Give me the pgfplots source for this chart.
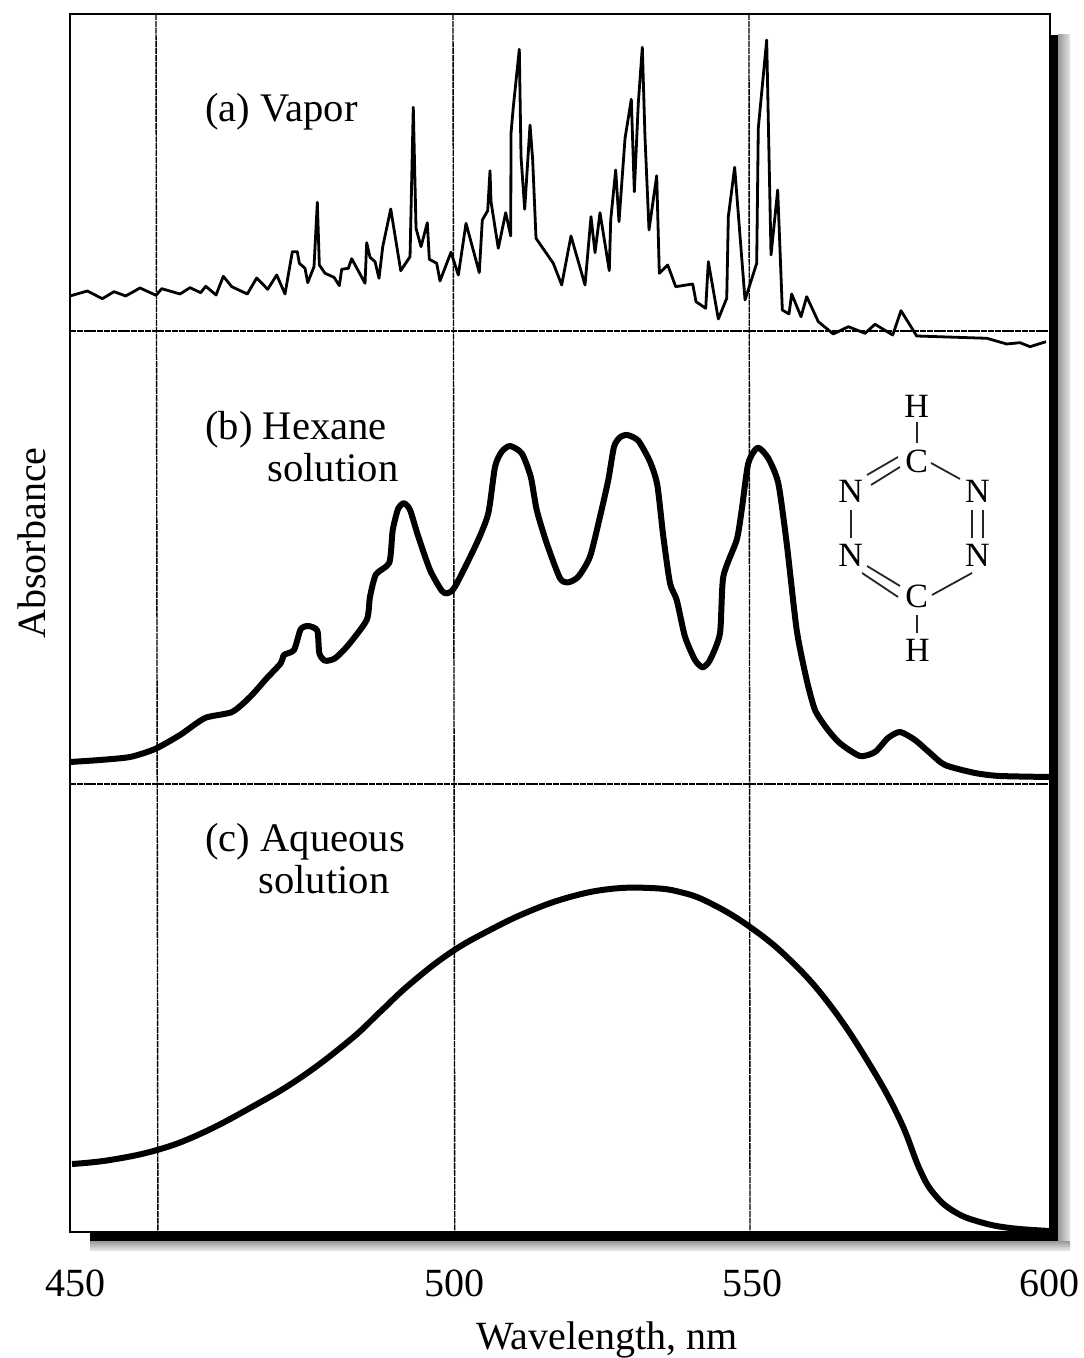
\documentclass[border=0pt]{standalone}
\usepackage{fontspec}
\setmainfont{Liberation Serif}
\usepackage{pgfplots}
\pgfplotsset{compat=1.18}
\usepackage{pgfplotstable}
\pgfplotstableread{
nm abs
435.30 1062
438.23 1067
440.76 1059.3
442.74 1066.3
444.71 1062
447.13 1070
449.83 1062.7
450.79 1069.3
453.89 1064
455.57 1070.3
457.38 1065.3
458.23 1071.7
459.97 1063
461.20 1081.7
462.62 1071.3
465.25 1064
466.84 1080
468.70 1068.7
470.22 1083
471.62 1064
472.86 1106.3
473.70 1106.3
474.04 1094.7
475.00 1089.7
475.46 1075.3
476.52 1091.3
477.08 1155.7
477.42 1093
478.38 1084.7
479.90 1080.7
480.80 1072.3
481.20 1088.7
482.32 1089.7
482.89 1099.3
485.14 1074.7
485.42 1115.3
485.98 1100.7
486.83 1096.3
487.50 1079.7
488.13 1111.3
489.48 1149
491.17 1087.3
492.74 1101.3
493.29 1250.7
493.75 1129.7
494.60 1111.3
495.66 1135.3
496.00 1098.7
497.25 1094.7
497.80 1077
499.66 1105.7
500.90 1083
502.20 1134.7
504.44 1085.3
504.95 1138
505.86 1147.3
506.25 1187.3
506.42 1156.3
507.65 1109.7
508.90 1145.3
509.75 1122
509.80 1224.7
510.19 1251.3
511.20 1308.7
511.49 1201.3
512.11 1148.7
513.01 1233
513.46 1198
514.02 1119.7
516.94 1094.7
518.36 1073
519.93 1122
522.30 1073
523.31 1141.3
523.99 1105.3
524.83 1145.3
526.40 1087.3
526.64 1138
527.48 1188
528.04 1136.3
529.06 1219.7
530.12 1258.7
530.63 1166.3
531.30 1254.7
531.98 1310.7
532.43 1221.3
533.11 1128
534.41 1182.3
534.85 1084.7
536.27 1093
537.62 1071.3
540.49 1074
541.05 1056.3
542.69 1049.7
543.13 1096.3
544.82 1039
546.24 1059.7
546.51 1141.3
547.58 1190.7
549.33 1058
551.30 1094.7
551.57 1229.7
552.99 1318
553.72 1103
554.85 1168
555.63 1048
556.76 1044
557.21 1064
558.79 1041.3
559.75 1061.3
561.71 1036.3
563.97 1025.3
564.24 1024
566.78 1031.3
569.60 1024.7
571.29 1033.7
574.28 1023
575.68 1047.3
578.33 1022
590.16 1019.7
593.53 1014
595.78 1015.3
597.47 1011.3
600.17 1016.3
}\vapor
\pgfplotstableread{
nm abs
435.30 596
440.37 598
445.44 601
449.66 609
453.89 623
458.11 640
462.67 646
465.71 661
468.53 679.7
470.90 694.7
471.45 703
473.14 708
474.27 728.7
475.56 732
477.08 727.3
477.42 704.7
478.38 697.3
480.07 699.7
482.32 713
485.42 738
485.98 761.3
486.99 783.7
489.24 795.3
489.82 828
490.76 849.7
491.72 854.7
492.74 848
494.14 821.3
496.12 788
498.09 767.3
499.04 764.7
500.34 771.3
504.00 814.7
505.96 844.7
507.10 891.3
508.23 906.3
509.63 912
511.61 904.7
513.13 881.3
514.14 848
515.83 814.7
518.08 779.7
519.48 775.7
521.17 781.3
523.14 801.3
524.83 841.3
526.23 878
527.20 911.3
528.21 920.7
529.44 923
531.30 917.3
533.28 896.3
534.51 873
535.53 821.3
536.66 774.7
537.79 758
539.19 721.3
540.88 698
542.18 690.7
543.41 698
545.10 724.7
545.66 781.3
547.92 818
548.77 848
549.88 894.7
551.47 910.3
553.26 899.7
554.95 874.7
556.37 814.7
558.06 728
559.75 678
561.15 648
563.13 629.7
565.37 614.7
568.75 602
571.29 606
573.48 620
575.51 626
578.04 618
580.58 605
583.11 593
588.18 585
592.40 582
600.85 581
}\hexane
\pgfplotstableread{
nm abs
435.64 194
442.06 198
450.00 208
457.26 224
465.71 250
474.16 280
482.60 318
487.67 346
492.74 374
499.49 405
506.25 428
513.01 447
519.76 461
526.52 469
533.28 470
538.35 466
543.41 455
550.17 431
556.93 398
563.68 353
570.44 293
575.51 238
578.89 188
581.42 163
584.80 146
589.02 136
594.09 130
600.85 127
}\aqueous
\begin{document}
\fontsize{20}{24}\selectfont
\begin{tikzpicture}
\useasboundingbox (-35pt,-63pt) rectangle (506.5pt,616pt);
% drop shadow of the frame, in reference pixel positions
\begin{scope}[shift={(-35pt,616pt)},x=0.5pt,y=-0.5pt]
\shade[left color=gray!80,right color=gray!20] (1058,35) rectangle (1070,1250);
\shade[top color=gray!80,bottom color=gray!20] (90,1241) rectangle (1070,1250);
\fill[black] (1051,35) rectangle (1058,1241);
\fill[black] (90,1233) rectangle (1058,1241);
\end{scope}
\begin{axis}[
  at={(0pt,0pt)},anchor=south west,
  scale only axis,width=490pt,height=609pt,
  xmin=435.30,xmax=600.85,ymin=126,ymax=1344,
  clip=false,
  axis line style={black,line width=1pt},
  ytick=\empty,
  xtick={436.15,500.3,550.6,600.7},
  xticklabels={450,500,550,600},
  major tick length=0pt,
  /pgf/number format/assume math mode=true,
  xticklabel style={font=\fontsize{20}{24}\selectfont,yshift=-12pt},
  xlabel={Wavelength, nm},
  xlabel style={font=\fontsize{20}{24}\selectfont,at={(axis cs:526,126)},anchor=north,yshift=-38pt},
  ylabel={Absorbance},
  ylabel style={font=\fontsize{20}{24}\selectfont,at={(axis cs:435.30,815)},anchor=south,rotate=0,yshift=5pt},
]
\addplot[black,line width=0.7pt,dash pattern=on 3pt off 0.4pt] coordinates {(449.83,1344) (450.15,126)};
\addplot[black,line width=0.7pt,dash pattern=on 3pt off 0.4pt] coordinates {(500.0,1344) (500.3,126)};
\addplot[black,line width=0.7pt,dash pattern=on 3pt off 0.4pt] coordinates {(550.0,1344) (550.17,126)};
\addplot[black,line width=0.7pt,dash pattern=on 3pt off 0.4pt] coordinates {(435.30,1027) (600.85,1027)};
\addplot[black,line width=0.7pt,dash pattern=on 3pt off 0.4pt] coordinates {(435.30,574) (600.85,574)};
\addplot[black,line width=1.4pt,line join=round] table[x=nm,y=abs] {\vapor};
\addplot[black,line width=3pt,smooth,tension=0.4,line join=round] table[x=nm,y=abs] {\hexane};
\addplot[black,line width=3pt,smooth,tension=0.7,line join=round] table[x=nm,y=abs] {\aqueous};
\end{axis}
\begin{scope}[shift={(-35pt,616pt)},x=0.5pt,y=-0.5pt,font=\fontsize{20.3}{24}\selectfont]
\node[anchor=base west,inner sep=0pt] at (205,122) {(a) Vapor};
\node[anchor=base west,inner sep=0pt] at (205,440) {(b) Hexane};
\node[anchor=base,inner sep=0pt] at (333,482) {solution};
\node[anchor=base west,inner sep=0pt] at (205,852) {(c) Aqueous};
\node[anchor=base,inner sep=0pt] at (324,894) {solution};
% tetrazine structure
\begin{scope}[font=\fontsize{17}{20}\selectfont,inner sep=0pt]
\node at (916.7,406) {H};
\node at (916.7,461.7) {C};
\node at (850.7,491.7) {N};
\node at (977.3,491.7) {N};
\node at (850.7,555) {N};
\node at (977.3,555) {N};
\node at (916.7,596.7) {C};
\node at (917.3,650) {H};
\end{scope}
\begin{scope}[line width=0.9pt,black!85]
\draw (916.7,422)--(916.7,443);
\draw (898,457)--(867,475);
\draw (900,467)--(871,485);
\draw (931,463)--(960,479);
\draw (850.7,510)--(850.7,538);
\draw (971.7,510)--(971.7,538);
\draw (982.7,510)--(982.7,538);
\draw (867,566)--(900,586);
\draw (862,573)--(898,597);
\draw (972,573)--(932,595);
\draw (917.3,615)--(917.3,633);
\end{scope}
\end{scope}
\end{tikzpicture}
\end{document}
